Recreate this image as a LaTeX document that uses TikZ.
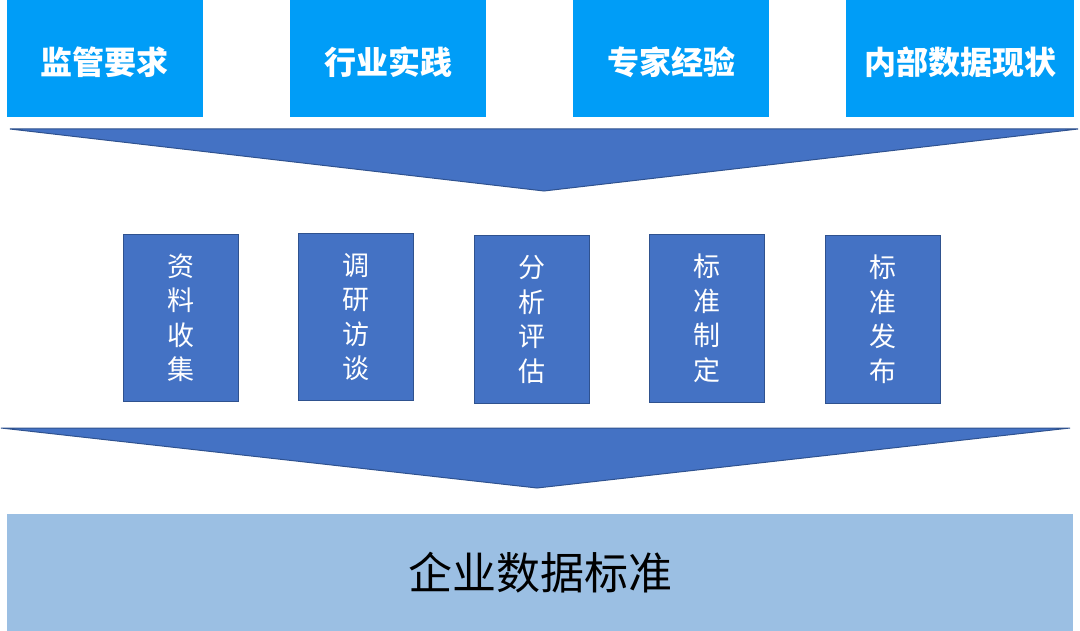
\documentclass[tikz,border=0pt]{standalone}
\usepackage{fontspec}
\setmainfont{Noto Sans CJK SC}
\definecolor{topblue}{HTML}{009DF7}
\definecolor{midblue}{HTML}{4472C4}
\definecolor{edgeblue}{HTML}{2F528F}
\definecolor{baseblue}{HTML}{9BBFE3}

\begin{document}
\begin{tikzpicture}[x=1pt,y=-1pt,
    source/.style={fill=topblue, inner sep=0pt, text=white, text height=33pt, text depth=0pt,
        font=\fontsize{32}{38}\selectfont\bfseries},
    stage/.style={fill=midblue, draw=edgeblue, line width=1pt, inner sep=0pt,
        minimum width=115pt, minimum height=167pt, text=white, align=center,
        font=\fontsize{27}{34.5}\selectfont},
    funnel/.style={fill=midblue, draw=edgeblue, line width=1pt, line join=miter}]
    \useasboundingbox (0,0) rectangle (1080,631);

    % top: sources
    \node[source, minimum width=196pt, minimum height=117pt] (jg) at (105,58.5) {监管要求};
    \node[source, minimum width=196pt, minimum height=117pt] (hy) at (388,58.5) {行业实践};
    \node[source, minimum width=196pt, minimum height=117pt] (zj) at (671,58.5) {专家经验};
    \node[source, minimum width=228pt, minimum height=117pt] (nb) at (960,58.5) {内部数据现状};

    % first funnel
    \coordinate (f1l) at (10,129);
    \coordinate (f1r) at (1078,129);
    \coordinate (f1t) at (544,191);
    \draw[funnel] (f1l) -- (f1r) -- (f1t) -- cycle;

    % middle: steps
    \node[stage] (zl) at (180.5,318) {资\\料\\收\\集};
    \node[stage] (dy) at (355.5,317) {调\\研\\访\\谈};
    \node[stage] (fx) at (531.5,319.5) {分\\析\\评\\估};
    \node[stage] (zd) at (707,318.5) {标\\准\\制\\定};
    \node[stage] (fb) at (883,319.5) {标\\准\\发\\布};

    % second funnel
    \coordinate (f2l) at (1,428);
    \coordinate (f2r) at (1070,428);
    \coordinate (f2t) at (537,488);
    \draw[funnel] (f2l) -- (f2r) -- (f2t) -- cycle;

    % bottom: result
    \node[fill=baseblue, inner sep=0pt, minimum width=1066pt, minimum height=117pt,
        font=\fontsize{44}{50}\selectfont] (bz) at (540,572.5) {企业数据标准};
\end{tikzpicture}
\end{document}
